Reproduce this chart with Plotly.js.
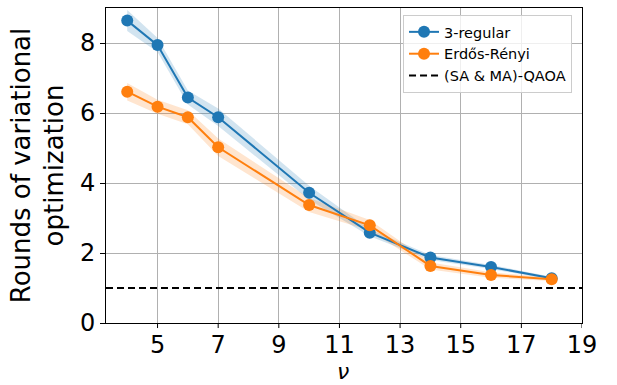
<!DOCTYPE html>
<html><head><meta charset="utf-8">
<script src="https://cdn.plot.ly/plotly-3.0.1.min.js"></script>
<style>body{margin:0;background:#fff}#c{width:617px;height:385px}</style>
</head><body><div id="c"></div>
<script>
const nu = [4, 5, 6, 7, 10, 12, 14, 16, 18];
const regular = [8.64, 7.94, 6.44, 5.88, 3.72, 2.58, 1.87, 1.60, 1.28];
const regularLo = [8.34, 7.74, 6.24, 5.63, 3.52, 2.48, 1.80, 1.54, 1.24];
const regularHi = [8.94, 8.14, 6.64, 6.13, 3.92, 2.68, 1.94, 1.66, 1.32];
const erdos = [6.61, 6.18, 5.88, 5.02, 3.37, 2.79, 1.63, 1.37, 1.25];
const erdosLo = [6.36, 5.98, 5.68, 4.77, 3.17, 2.64, 1.53, 1.29, 1.20];
const erdosHi = [6.86, 6.38, 6.08, 5.27, 3.57, 2.94, 1.73, 1.45, 1.30];
const baseline = 1;
const xTicks = [5, 7, 9, 11, 13, 15, 17, 19];
const yTicks = [0, 2, 4, 6, 8];
const xLabel = 'ν';

const blue = '#1f77b4', orange = '#ff7f0e';
function band(lo, hi, color) {
  return {x: nu.concat(nu.slice().reverse()), y: hi.concat(lo.slice().reverse()),
    fill: 'toself', fillcolor: color, line: {width: 0}, mode: 'lines',
    hoverinfo: 'skip', showlegend: false, type: 'scatter'};
}
const data = [
  band(regularLo, regularHi, 'rgba(31,119,180,0.2)'),
  band(erdosLo, erdosHi, 'rgba(255,127,14,0.2)'),
  {x: nu, y: regular, name: '3-regular', mode: 'lines+markers', type: 'scatter',
   line: {color: blue, width: 2}, marker: {color: blue, size: 12}},
  {x: nu, y: erdos, name: 'Erdős-Rényi', mode: 'lines+markers', type: 'scatter',
   line: {color: orange, width: 2}, marker: {color: orange, size: 12}},
  {x: [3.3, 19], y: [baseline, baseline], name: '(SA & MA)-QAOA', mode: 'lines', type: 'scatter',
   line: {color: 'black', width: 2, dash: '7px,4px'}}
];
// x tick marks drawn as short shapes below the axis so the labels sit closer
const tickShapes = xTicks.map(v => ({type: 'line', xref: 'x', yref: 'paper',
  x0: v, x1: v, y0: 0, y1: -0.016, line: {color: 'black', width: 1}}));
const layout = {
  width: 617, height: 385,
  margin: {l: 106, r: 35, t: 8, b: 62},
  paper_bgcolor: 'white', plot_bgcolor: 'white',
  font: {family: 'DejaVu Sans', size: 24, color: 'black'},
  showlegend: true,
  shapes: tickShapes,
  annotations: [{text: '<i>' + xLabel + '</i>', xref: 'paper', yref: 'paper',
    x: 0.498, y: -0.1965, xanchor: 'center', yanchor: 'bottom', showarrow: false,
    borderpad: 0, font: {family: 'DejaVu Sans', size: 22, color: 'black'}}],
  legend: {x: 0.624, y: 0.978, xanchor: 'left', yanchor: 'top',
    bgcolor: 'rgba(255,255,255,0.8)', bordercolor: '#cccccc', borderwidth: 1,
    font: {family: 'DejaVu Sans', size: 14.5, color: 'black'}, tracegroupgap: 0},
  xaxis: {range: [3.3, 19], tickvals: xTicks, ticktext: xTicks.map(String),
    showgrid: true, gridcolor: '#b0b0b0', gridwidth: 1,
    ticks: '', ticklen: 0,
    showline: true, linecolor: 'black', linewidth: 1, mirror: true, zeroline: false,
    tickfont: {family: 'DejaVu Sans', size: 24}},
  yaxis: {range: [0, 9], tickvals: yTicks, ticktext: yTicks.map(String),
    showgrid: true, gridcolor: '#b0b0b0', gridwidth: 1,
    ticks: 'outside', ticklen: 5, tickcolor: 'black', tickwidth: 1,
    showline: true, linecolor: 'black', linewidth: 1, mirror: true, zeroline: false,
    tickfont: {family: 'DejaVu Sans', size: 24},
    title: {text: 'Rounds of variational<br>optimization', font: {family: 'DejaVu Sans', size: 26}, standoff: 8}}
};
Plotly.newPlot('c', data, layout, {displayModeBar: false, staticPlot: true});
</script></body></html>
